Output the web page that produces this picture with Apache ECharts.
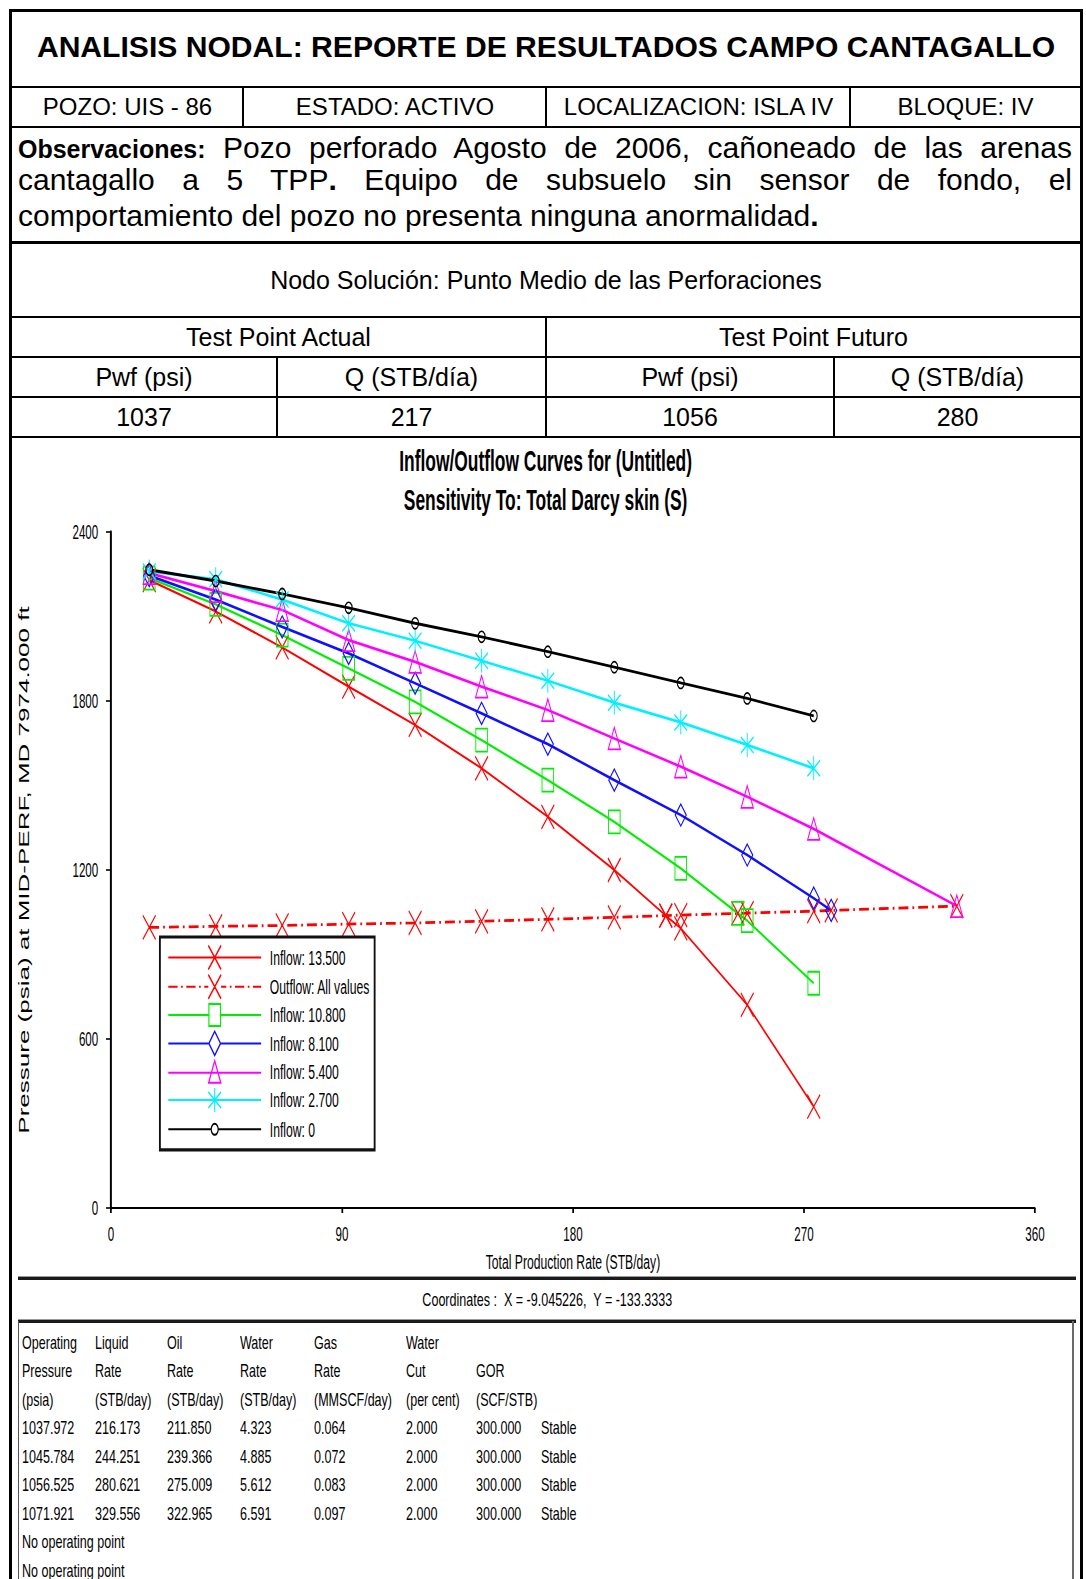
<!DOCTYPE html>
<html>
<head>
<meta charset="utf-8">
<title>Analisis Nodal - Campo Cantagallo</title>
<script src="https://cdn.jsdelivr.net/npm/echarts@6.0.0/dist/echarts.min.js"></script>
<style>
  html, body { margin: 0; padding: 0; background: #fff; overflow: hidden; width: 1086px; height: 1579px; }
  #page { position: relative; width: 1086px; height: 1579px; font-family: 'Liberation Sans', Arial, Helvetica, sans-serif; color: #000; }
  .frame { position: absolute; left: 9px; top: 9px; width: 1074px; height: 1620px; border: 3px solid #000; box-sizing: border-box; }
  .ln { position: absolute; background: #000; }
  .cell { position: absolute; display: flex; align-items: center; justify-content: center; white-space: nowrap; }
  .obs { position: absolute; left: 18px; width: 1054px; height: 34px; line-height: 34px; font-size: 30px; white-space: nowrap; }
  .obs.j { text-align: justify; text-align-last: justify; white-space: normal; }
  .obs b.lbl { font-size: 25px; }
  .nar { position: absolute; font-size: 19px; line-height: 20px; height: 20px; white-space: pre; transform: scaleX(0.66); transform-origin: 0 50%; }
  .dbl { position: absolute; height: 4px; background: linear-gradient(#9a9a9a 0, #9a9a9a 1.5px, #1a1a1a 1.5px, #1a1a1a 4px); }
  #chart { position: absolute; left: 12px; top: 437px; width: 1840px; height: 841px; transform: scaleX(0.58); transform-origin: 0 0; }
</style>
</head>
<body>
<div id="page">
  <div class="frame"></div>

  <!-- horizontal rules of the report header -->
  <div class="ln" style="left:9px;top:86px;width:1074px;height:2px"></div>
  <div class="ln" style="left:9px;top:126px;width:1074px;height:2px"></div>
  <div class="ln" style="left:9px;top:241px;width:1074px;height:3px"></div>
  <div class="ln" style="left:9px;top:316px;width:1074px;height:2px"></div>
  <div class="ln" style="left:9px;top:356px;width:1074px;height:2px"></div>
  <div class="ln" style="left:9px;top:396px;width:1074px;height:2px"></div>
  <div class="ln" style="left:9px;top:436px;width:1074px;height:2px"></div>
  <!-- vertical rules -->
  <div class="ln" style="left:242px;top:87px;width:2px;height:40px"></div>
  <div class="ln" style="left:545px;top:87px;width:2px;height:40px"></div>
  <div class="ln" style="left:849px;top:87px;width:2px;height:40px"></div>
  <div class="ln" style="left:545px;top:317px;width:2px;height:120px"></div>
  <div class="ln" style="left:276px;top:357px;width:2px;height:80px"></div>
  <div class="ln" style="left:833px;top:357px;width:2px;height:80px"></div>

  <div class="cell" style="left:12px;width:1068px;top:27px;height:40px;font-size:30.1px;font-weight:bold">ANALISIS NODAL: REPORTE DE RESULTADOS CAMPO CANTAGALLO</div>

  <div class="cell" style="left:12px;width:231px;top:89px;height:36px;font-size:24px">POZO: UIS - 86</div>
  <div class="cell" style="left:244px;width:302px;top:89px;height:36px;font-size:24px">ESTADO: ACTIVO</div>
  <div class="cell" style="left:547px;width:303px;top:89px;height:36px;font-size:24px">LOCALIZACION: ISLA IV</div>
  <div class="cell" style="left:851px;width:229px;top:89px;height:36px;font-size:24px">BLOQUE: IV</div>

  <div class="obs j" style="top:131px"><b class="lbl">Observaciones:</b> Pozo perforado Agosto de 2006, cañoneado de las arenas</div>
  <div class="obs j" style="top:163px">cantagallo a 5 TPP<b>.</b> Equipo de subsuelo sin sensor de fondo, el</div>
  <div class="obs" style="top:199px">comportamiento del pozo no presenta ninguna anormalidad<b>.</b></div>

  <div class="cell" style="left:12px;width:1068px;top:262px;height:36px;font-size:25px">Nodo Solución: Punto Medio de las Perforaciones</div>

  <div class="cell" style="left:12px;width:533px;top:319px;height:36px;font-size:25px">Test Point Actual</div>
  <div class="cell" style="left:547px;width:533px;top:319px;height:36px;font-size:25px">Test Point Futuro</div>

  <div class="cell" style="left:12px;width:264px;top:359px;height:36px;font-size:25px">Pwf (psi)</div>
  <div class="cell" style="left:278px;width:267px;top:359px;height:36px;font-size:25px">Q (STB/día)</div>
  <div class="cell" style="left:547px;width:286px;top:359px;height:36px;font-size:25px">Pwf (psi)</div>
  <div class="cell" style="left:835px;width:245px;top:359px;height:36px;font-size:25px">Q (STB/día)</div>

  <div class="cell" style="left:12px;width:264px;top:399px;height:36px;font-size:25px">1037</div>
  <div class="cell" style="left:278px;width:267px;top:399px;height:36px;font-size:25px">217</div>
  <div class="cell" style="left:547px;width:286px;top:399px;height:36px;font-size:25px">1056</div>
  <div class="cell" style="left:835px;width:245px;top:399px;height:36px;font-size:25px">280</div>

  <!-- inflow / outflow plot -->
  <div id="chart"></div>

  <!-- status strip and results table -->
  <div class="dbl" style="left:18px;top:1276px;width:1058px"></div>
  <div class="cell" style="left:18px;width:1058px;top:1290px;height:20px;font-size:19px"><span style="display:inline-block;transform:scaleX(0.66)">Coordinates :&nbsp; X = -9.045226,&nbsp; Y = -133.3333</span></div>
  <div class="dbl" style="left:18px;top:1319px;width:1058px"></div>
  <div class="ln" style="left:18px;top:1321px;width:1px;height:260px;background:#555"></div>
  <div class="ln" style="left:1072px;top:1321px;width:2px;height:260px;background:#6a6a6a"></div>
  <div id="results"></div>
</div>

<script>
// ---- report table (operating points) ----
const resultColumns = [22, 94.7, 167, 240, 314, 406, 475.5, 541];
const resultHeader = [
  ['Operating', 'Liquid', 'Oil', 'Water', 'Gas', 'Water', '', ''],
  ['Pressure', 'Rate', 'Rate', 'Rate', 'Rate', 'Cut', 'GOR', ''],
  ['(psia)', '(STB/day)', '(STB/day)', '(STB/day)', '(MMSCF/day)', '(per cent)', '(SCF/STB)', '']
];
const resultRows = [
  ['1037.972', '216.173', '211.850', '4.323', '0.064', '2.000', '300.000', 'Stable'],
  ['1045.784', '244.251', '239.366', '4.885', '0.072', '2.000', '300.000', 'Stable'],
  ['1056.525', '280.621', '275.009', '5.612', '0.083', '2.000', '300.000', 'Stable'],
  ['1071.921', '329.556', '322.965', '6.591', '0.097', '2.000', '300.000', 'Stable'],
  ['No operating point', '', '', '', '', '', '', ''],
  ['No operating point', '', '', '', '', '', '', '']
];
const resultRowTop = 1333;
const resultRowStep = 28.45;

(function buildResults() {
  const host = document.getElementById('results');
  const all = resultHeader.concat(resultRows);
  all.forEach((row, r) => {
    row.forEach((txt, c) => {
      if (!txt) return;
      const s = document.createElement('div');
      s.className = 'nar';
      s.textContent = txt;
      s.style.left = resultColumns[c] + 'px';
      s.style.top = (resultRowTop + r * resultRowStep) + 'px';
      host.appendChild(s);
    });
  });
})();

// ---- inflow / outflow data ----
// liquid rates (STB/day) at which each curve is evaluated
const rateQ = [14.9, 40.8, 66.7, 92.6, 118.5, 144.4, 170.2, 196.1, 222.0, 247.9, 273.8];
// flowing pressure at mid-perforations (psia) for each total Darcy skin
const inflowSkin135 = [2229, 2118, 1990, 1851, 1715, 1561, 1389, 1200, 993, 721, 360];
const inflowSkin108 = [2236, 2143, 2034, 1916, 1797, 1661, 1519, 1371, 1206, 1020, 798];
const inflowSkin81  = [2245, 2160, 2063, 1969, 1863, 1756, 1647, 1519, 1395, 1253, 1100];
const inflowSkin54  = [2254, 2190, 2123, 2016, 1939, 1851, 1768, 1667, 1567, 1460, 1346];
const inflowSkin27  = [2260, 2232, 2160, 2076, 2014, 1943, 1872, 1794, 1724, 1644, 1561];
const inflowSkin0   = [2266, 2226, 2180, 2131, 2076, 2028, 1975, 1920, 1864, 1809, 1747];
// tubing (outflow) curve, same for all sensitivities
const outflowAll    = [996, 1000, 1003, 1008, 1012, 1018, 1025, 1032, 1040, 1047, 1054];
// solution (operating) points for skin 13.5, 10.8, 8.1, 5.4
const opRate     = [216.173, 244.251, 280.621, 329.556];
const opPressure = [1037.972, 1045.784, 1056.525, 1071.921];
// axis ranges
const rateAxis = { min: 0, max: 360, step: 90 };
const presAxis = { min: 0, max: 2400, step: 600 };

function curve(pres, extraIdx) {
  const pts = rateQ.map((q, i) => [q, pres[i]]);
  extraIdx.forEach(k => pts.push([opRate[k], opPressure[k]]));
  return pts.sort((a, b) => a[0] - b[0]);
}

const FONT = "'Liberation Sans', Arial, Helvetica, sans-serif";

const SYM = {
  cross:    { s: 'path://M0,0L22,24M22,0L0,24', size: [22, 24] },
  square:   { s: 'rect', size: [20, 23] },
  diamond:  { s: 'diamond', size: [19, 22] },
  triangle: { s: 'path://M10.5,0L21,22L0,22Z', size: [21, 22] },
  star:     { s: 'path://M11,0L11,24M0,4L22,20M0,20L22,4', size: [22, 24] },
  ring:     { s: 'circle', size: [12, 11] }
};

// legend icons: line + marker in a 160 x 24 box
const ICON = {
  cross:    'path://M0,12L160,12M69,0L91,24M91,0L69,24',
  dashdot:  'path://M0,12L16,12M22,12L25,12M31,12L47,12M53,12L56,12M62,12L69,12M69,0L91,24M91,0L69,24M91,12L100,12M106,12L109,12M115,12L131,12M137,12L140,12M146,12L160,12',
  square:   'path://M0,12L70,12M90,12L160,12M70,1L90,1L90,23L70,23Z',
  diamond:  'path://M0,12L70,12M90,12L160,12M80,0L90,12L80,24L70,12Z',
  triangle: 'path://M0,12L160,12M80,0L90.5,22L69.5,22Z',
  star:     'path://M0,12L160,12M80,0L80,24M69,4L91,20M69,20L91,4',
  ring:     'path://M80,0M80,24M0,12L74,12M86,12L160,12M74,12A6,5.5,0,1,1,86,12A6,5.5,0,1,1,74,12Z'
};

const curves = [
  { name: 'Inflow: 13.500',      data: curve(inflowSkin135, [0]),          color: '#ff0000', sym: 'cross',    icon: 'cross',    width: 2.2 },
  { name: 'Outflow: All values', data: curve(outflowAll, [0, 1, 2, 3]),    color: '#ff0000', sym: 'cross',    icon: 'dashdot',  width: 2.8, dash: [17, 7, 3, 7] },
  { name: 'Inflow: 10.800',      data: curve(inflowSkin108, [1]),          color: '#00ee00', sym: 'square',   icon: 'square',   width: 2.4 },
  { name: 'Inflow: 8.100',       data: curve(inflowSkin81, [2]),           color: '#1010ff', sym: 'diamond',  icon: 'diamond',  width: 2.7 },
  { name: 'Inflow: 5.400',       data: curve(inflowSkin54, [3]),           color: '#ff00ff', sym: 'triangle', icon: 'triangle', width: 2.7 },
  { name: 'Inflow: 2.700',       data: curve(inflowSkin27, []),            color: '#00f0ff', sym: 'star',     icon: 'star',     width: 2.7 },
  { name: 'Inflow: 0',           data: curve(inflowSkin0, []),             color: '#000000', sym: 'ring',     icon: 'ring',     width: 2.8 }
];

const chart = echarts.init(document.getElementById('chart'), null, { renderer: 'svg' });

chart.setOption({
  animation: false,
  title: {
    text: 'Inflow/Outflow Curves for (Untitled)\nSensitivity To: Total Darcy skin (S)',
    left: 'center',
    top: -1,
    textStyle: { fontFamily: FONT, fontSize: 30, fontWeight: 'bold', color: '#000', lineHeight: 39 }
  },
  grid: { left: 170.7, top: 95, width: 1593, height: 676, containLabel: false, outerBoundsMode: 'none' },
  xAxis: {
    type: 'value', min: rateAxis.min, max: rateAxis.max, interval: rateAxis.step,
    name: 'Total Production Rate (STB/day)', nameLocation: 'middle', nameGap: 43, nameMoveOverlap: false,
    nameTextStyle: { fontFamily: FONT, fontSize: 21, color: '#000' },
    axisLine: { onZero: false, lineStyle: { color: '#000', width: 2 } },
    axisTick: { show: true, length: 5, lineStyle: { color: '#000', width: 3 } },
    axisLabel: { fontFamily: FONT, fontSize: 20, color: '#000', margin: 16, showMinLabel: true, showMaxLabel: true,
                 formatter: v => String(v) },
    splitLine: { show: false }
  },
  yAxis: {
    type: 'value', min: presAxis.min, max: presAxis.max, interval: presAxis.step,
    name: 'Pressure (psia) at MID-PERF, MD 7974.000 ft', nameLocation: 'middle', nameGap: 137, nameMoveOverlap: false,
    nameTextStyle: { fontFamily: FONT, fontSize: 26, color: '#000' },
    axisLine: { onZero: false, lineStyle: { color: '#000', width: 3.4 } },
    axisTick: { show: true, length: 8.6, lineStyle: { color: '#000', width: 1.6 } },
    axisLabel: { fontFamily: FONT, fontSize: 20, color: '#000', margin: 22, showMinLabel: true, showMaxLabel: true,
                 formatter: v => String(v) },
    splitLine: { show: false }
  },
  legend: {
    orient: 'vertical', left: 255, top: 500,
    itemWidth: 160, itemHeight: 24, itemGap: 0.3,
    padding: [6, 8, 6, 12],
    backgroundColor: '#fff', borderColor: '#111', borderWidth: 3.2,
    selectedMode: false,
    textStyle: { fontFamily: FONT, fontSize: 21, color: '#000', padding: [0, 0, 0, 10] },
    data: curves.map(c => ({
      name: c.name,
      icon: ICON[c.icon],
      itemStyle: { color: 'none', borderColor: c.color, borderWidth: 2 }
    }))
  },
  series: curves.map(c => ({
    type: 'line',
    name: c.name,
    data: c.data,
    symbol: SYM[c.sym].s,
    symbolSize: SYM[c.sym].size,
    showSymbol: true,
    showAllSymbol: true,
    clip: false,
    lineStyle: { color: c.color, width: c.width, type: c.dash || 'solid' },
    itemStyle: { color: 'rgba(0,0,0,0)', borderColor: c.color, borderWidth: 1.7 },
    emphasis: { disabled: true }
  }))
});
</script>
</body>
</html>
